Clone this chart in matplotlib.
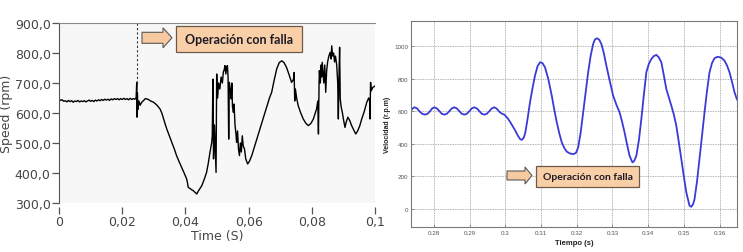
import matplotlib
matplotlib.use("Agg")
import matplotlib.pyplot as plt
from matplotlib.patches import FancyArrow, Rectangle

# --- left chart: measured speed (LabVIEW style) ---
left_t = [0.0000, 0.0005, 0.0010, 0.0015, 0.0020, 0.0025, 0.0030, 0.0035, 0.0040, 0.0045,
          0.0050, 0.0055, 0.0060, 0.0065, 0.0070, 0.0075, 0.0080, 0.0085, 0.0090, 0.0095,
          0.0100, 0.0105, 0.0110, 0.0115, 0.0120, 0.0125, 0.0130, 0.0135, 0.0140, 0.0145,
          0.0150, 0.0155, 0.0160, 0.0165, 0.0170, 0.0175, 0.0180, 0.0185, 0.0190, 0.0195,
          0.0200, 0.0205, 0.0210, 0.0215, 0.0220, 0.0225, 0.0230, 0.0235, 0.0240, 0.0244,
          0.0246, 0.0247, 0.0248, 0.0250, 0.0253, 0.0257, 0.0262, 0.0268, 0.0273, 0.0277,
          0.0283, 0.0290, 0.0299, 0.0310, 0.0320, 0.0326, 0.0331, 0.0336, 0.0341, 0.0349,
          0.0357, 0.0365, 0.0372, 0.0380, 0.0388, 0.0396, 0.0404, 0.0407, 0.0409, 0.0415,
          0.0420, 0.0425, 0.0431, 0.0436, 0.0441, 0.0446, 0.0452, 0.0460, 0.0467, 0.0472,
          0.0478, 0.0483, 0.0485, 0.0487, 0.0489, 0.0492, 0.0495, 0.0497, 0.0499, 0.0502,
          0.0505, 0.0509, 0.0513, 0.0517, 0.0520, 0.0523, 0.0525, 0.0528, 0.0531, 0.0533,
          0.0535, 0.0537, 0.0539, 0.0542, 0.0545, 0.0547, 0.0549, 0.0552, 0.0554, 0.0557,
          0.0560, 0.0562, 0.0565, 0.0568, 0.0571, 0.0574, 0.0577, 0.0580, 0.0583, 0.0587,
          0.0591, 0.0597, 0.0603, 0.0610, 0.0618, 0.0626, 0.0636, 0.0644, 0.0652, 0.0660,
          0.0666, 0.0673, 0.0681, 0.0689, 0.0697, 0.0705, 0.0712, 0.0720, 0.0728, 0.0736,
          0.0742, 0.0744, 0.0746, 0.0748, 0.0752, 0.0757, 0.0765, 0.0773, 0.0781, 0.0789,
          0.0797, 0.0805, 0.0815, 0.0819, 0.0821, 0.0823, 0.0824, 0.0827, 0.0829, 0.0831,
          0.0833, 0.0836, 0.0838, 0.0841, 0.0844, 0.0847, 0.0850, 0.0854, 0.0858, 0.0861,
          0.0863, 0.0866, 0.0869, 0.0872, 0.0875, 0.0879, 0.0882, 0.0884, 0.0886, 0.0888,
          0.0890, 0.0893, 0.0897, 0.0900, 0.0905, 0.0909, 0.0914, 0.0920, 0.0926, 0.0932,
          0.0939, 0.0945, 0.0952, 0.0958, 0.0966, 0.0974, 0.0980, 0.0983, 0.0984, 0.0986,
          0.0988, 0.0993, 0.1000]
left_v = [646, 642, 644, 639, 641, 637, 642, 638, 641, 636,
          640, 638, 642, 637, 640, 638, 641, 637, 640, 643,
          639, 642, 638, 643, 640, 644, 641, 645, 642, 646,
          643, 646, 642, 647, 644, 648, 645, 648, 644, 648,
          645, 649, 645, 648, 644, 649, 645, 648, 646, 650,
          702, 586, 668, 612, 640, 626, 636, 642, 648, 647,
          645, 640, 636, 626, 613, 598, 580, 563, 547, 524,
          502, 480, 458, 438, 419, 400, 380, 365, 352, 348,
          344, 341, 335, 330, 340, 348, 358, 380, 402, 430,
          470, 500, 524, 713, 447, 560, 470, 402, 730, 650,
          700, 680, 720, 700, 736, 745, 758, 730, 755, 758,
          720, 513, 702, 680, 647, 700, 620, 602, 630, 560,
          530, 502, 540, 480, 458, 500, 470, 524, 490, 480,
          447, 430, 440, 458, 485, 513, 547, 575, 602, 630,
          650, 669, 710, 747, 768, 774, 768, 752, 728, 702,
          712, 735, 640, 680, 650, 624, 600, 580, 566, 558,
          565, 580, 613, 640, 530, 700, 741, 700, 760, 720,
          769, 730, 700, 760, 669, 740, 770, 790, 802, 780,
          824, 790, 800, 770, 790, 758, 700, 580, 720, 819,
          647, 620, 600, 580, 552, 570, 586, 575, 558, 545,
          530, 540, 558, 580, 605, 636, 650, 640, 580, 702,
          674, 685, 690]
fault_time_left = 0.0247
left_xticks = [0, 0.02, 0.04, 0.06, 0.08, 0.1]
left_xlabels = ["0", "0,02", "0,04", "0,06", "0,08", "0,1"]
left_yticks = [300, 400, 500, 600, 700, 800, 900]
left_ylabels = ["300,0", "400,0", "500,0", "600,0", "700,0", "800,0", "900,0"]

# --- right chart: simulated speed (MATLAB style) ---
right_t = [0.2736, 0.2740, 0.2745, 0.2752, 0.2760, 0.2767, 0.2775, 0.2782, 0.2789, 0.2795,
           0.2801, 0.2808, 0.2815, 0.2822, 0.2829, 0.2836, 0.2843, 0.2850, 0.2857, 0.2864,
           0.2871, 0.2878, 0.2885, 0.2892, 0.2899, 0.2906, 0.2913, 0.2920, 0.2927, 0.2934,
           0.2941, 0.2948, 0.2955, 0.2962, 0.2969, 0.2976, 0.2983, 0.2990, 0.2996, 0.3000,
           0.3007, 0.3014, 0.3021, 0.3028, 0.3035, 0.3042, 0.3047, 0.3052, 0.3056, 0.3062,
           0.3069, 0.3076, 0.3083, 0.3090, 0.3097, 0.3104, 0.3111, 0.3120, 0.3130, 0.3137,
           0.3144, 0.3151, 0.3158, 0.3165, 0.3172, 0.3182, 0.3191, 0.3198, 0.3204, 0.3211,
           0.3218, 0.3225, 0.3232, 0.3239, 0.3246, 0.3251, 0.3257, 0.3263, 0.3269, 0.3276,
           0.3283, 0.3292, 0.3302, 0.3311, 0.3320, 0.3327, 0.3334, 0.3341, 0.3348, 0.3356,
           0.3361, 0.3367, 0.3374, 0.3381, 0.3388, 0.3395, 0.3402, 0.3409, 0.3416, 0.3423,
           0.3430, 0.3437, 0.3444, 0.3451, 0.3458, 0.3465, 0.3472, 0.3479, 0.3486, 0.3493,
           0.3500, 0.3507, 0.3512, 0.3516, 0.3521, 0.3526, 0.3530, 0.3537, 0.3544, 0.3551,
           0.3558, 0.3565, 0.3572, 0.3579, 0.3586, 0.3595, 0.3605, 0.3614, 0.3621, 0.3628,
           0.3635, 0.3642, 0.3649]
right_v = [606, 616, 624, 618, 598, 584, 579, 584, 600, 617,
           624, 617, 600, 584, 579, 584, 600, 617, 624, 617,
           600, 584, 579, 584, 600, 617, 624, 617, 600, 584,
           579, 584, 600, 617, 624, 615, 597, 585, 580, 573,
           555, 532, 506, 480, 450, 427, 425, 440, 470, 550,
           654, 740, 818, 875, 900, 895, 869, 800, 695, 610,
           532, 465, 409, 375, 352, 340, 337, 345, 378, 470,
           593, 720, 839, 940, 1012, 1040, 1047, 1038, 1012, 955,
           879, 790, 695, 640, 593, 535, 470, 395, 327, 286,
           295, 327, 420, 552, 700, 839, 890, 920, 938, 945,
           930, 900, 820, 736, 685, 634, 580, 511, 410, 307,
           200, 102, 55, 20, 14, 30, 61, 170, 307, 450,
           593, 725, 839, 895, 925, 934, 928, 910, 880, 839,
           780, 716, 672]
right_xticks = [0.28, 0.29, 0.30, 0.31, 0.32, 0.33, 0.34, 0.35, 0.36]
right_xlabels = ["0.28", "0.29", "0.3", "0.31", "0.32", "0.33", "0.34", "0.35", "0.36"]
right_yticks = [0, 200, 400, 600, 800, 1000]
right_ylabels = ["0", "200", "400", "600", "800", "1000"]

W, H = 743, 253
fig = plt.figure(figsize=(W / 100, H / 100), dpi=100)
fig.patch.set_facecolor("white")


def inch(x, y):
    # pixel position (from top-left) -> inches for dpi_scale_trans
    return x / 100, (H - y) / 100


# left axes
ax1 = fig.add_axes([59 / W, 1 - 204 / H, 316 / W, 180 / H])
ax1.set_facecolor("#f7f7f7")
ax1.plot(left_t, left_v, color="black", lw=1.0)
ax1.axvline(fault_time_left, ymin=(700 - 300) / 600, ymax=1, color="#333333",
            lw=0.8, linestyle=(0, (2, 2)))
ax1.set_xlim(0, 0.1)
ax1.set_ylim(300, 900)
ax1.set_xticks(left_xticks)
ax1.set_xticklabels(left_xlabels)
ax1.set_yticks(left_yticks)
ax1.set_yticklabels(left_ylabels)
ax1.spines["right"].set_visible(False)
ax1.spines["bottom"].set_position(("outward", 3))
ax1.spines["bottom"].set_visible(False)
ax1.spines["left"].set_color("#555555")
ax1.spines["top"].set_color("#8a8a8a")
ax1.tick_params(direction="out", length=5, width=0.9, color="#555555",
                labelcolor="#454545", labelsize=9, pad=1)
ax1.set_xlabel("Time (S)", fontsize=9, color="#454545")
ax1.xaxis.set_label_coords(0.5, -0.145)
ax1.set_ylabel("Speed (rpm)", fontsize=9, color="#454545")
ax1.yaxis.set_label_coords(-0.147, 0.5)

# right axes
ax2 = fig.add_axes([411 / W, 1 - 228 / H, 326 / W, 206 / H])
ax2.plot(right_t, right_v, color="#3a3ad8", lw=1.3)
ax2.set_xlim(0.27356, 0.36490)
ax2.set_ylim(-110, 1153)
ax2.set_xticks(right_xticks)
ax2.set_xticklabels(right_xlabels)
ax2.set_yticks(right_yticks)
ax2.set_yticklabels(right_ylabels)
ax2.grid(True, linestyle=(0, (1, 1)), color="#9a9a9a", lw=0.6)
for s in ax2.spines.values():
    s.set_color("#7a7a7a")
    s.set_linewidth(0.8)
ax2.tick_params(direction="in", length=2.5, width=0.6, color="#7a7a7a",
                labelcolor="#555555", labelsize=4.5, pad=2)
for lab in ax2.get_xticklabels() + ax2.get_yticklabels():
    lab.set_family("Liberation Sans")
ax2.set_xlabel("Tiempo (s)", fontsize=5.5, fontweight="bold", family="Liberation Sans",
               color="#222222")
ax2.xaxis.set_label_coords(0.5, -0.06)
ax2.set_ylabel("Velocidad (r.p.m)", fontsize=5, fontweight="bold", family="Liberation Sans",
               color="#222222")
ax2.yaxis.set_label_coords(-0.06, 0.5)

# "Operación con falla" callouts (arrow + box), placed in pixel units
arrow_fill = "#f7c9a1"
box_fill = "#f9cfa8"
callouts = [
    # arrow tail x, arrow tip x, center y, shaft, head w, head len, box x0, x1, y0, y1, font
    (142, 172, 38.8, 11, 20, 9, 176, 302, 27, 53, 9),
    (507, 532, 176.5, 9, 17, 7, 536, 639, 167, 188, 7.5),
]
for tx, hx, cy, sw, hw, hl, bx0, bx1, by0, by1, fs in callouts:
    x0, y0 = inch(tx, cy)
    arr = FancyArrow(x0, y0, (hx - tx) / 100, 0, width=sw / 100, head_width=hw / 100,
                     head_length=hl / 100, length_includes_head=True,
                     facecolor=arrow_fill, edgecolor="#5a5a5a", lw=0.8,
                     transform=fig.dpi_scale_trans)
    fig.add_artist(arr)
    rx, ry = inch(bx0, by1)
    rect = Rectangle((rx, ry), (bx1 - bx0) / 100, (by1 - by0) / 100,
                     facecolor=box_fill, edgecolor="#6e5a4a", lw=0.9,
                     transform=fig.dpi_scale_trans)
    fig.add_artist(rect)
    cx, cyy = inch((bx0 + bx1) / 2, (by0 + by1) / 2)
    fig.text(cx, cyy, "Operación con falla", transform=fig.dpi_scale_trans,
             ha="center", va="center", fontsize=fs, fontweight="bold",
             family="Lato", color="#1e1a28")

fig.savefig("out.png", dpi=100)
